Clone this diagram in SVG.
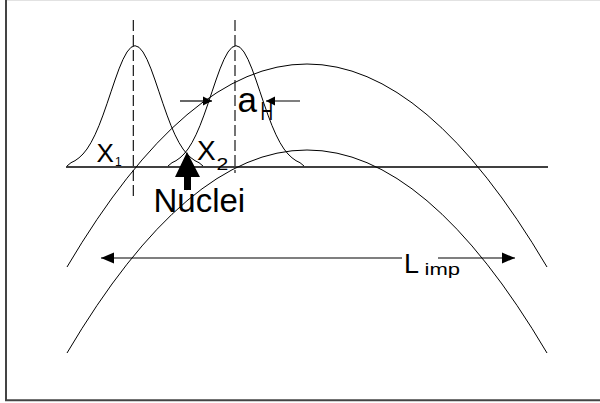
<svg xmlns="http://www.w3.org/2000/svg" width="600" height="403" viewBox="0 0 600 403">
<defs>
<style>
.c{fill:none;stroke:#000;stroke-width:1;stroke-linejoin:round}
.d{fill:none;stroke:#000;stroke-width:1.1;stroke-dasharray:11 4}
.t{font-family:"Liberation Sans",Arial,sans-serif;fill:#000}
.a{stroke:#000;stroke-width:1.2;fill:none}
</style>
<marker id="ahS" markerUnits="userSpaceOnUse" markerWidth="10" markerHeight="10" refX="9" refY="5" orient="auto"><path d="M0,0.5 L9,5 L0,9.5 z" fill="#000"/></marker>
<marker id="ahL" markerUnits="userSpaceOnUse" markerWidth="14" markerHeight="12" refX="13" refY="6" orient="auto"><path d="M0,0.5 L13,6 L0,11.5 z" fill="#000"/></marker>
</defs>
<rect width="600" height="403" fill="#fff"/>
<g id="frame">
<line x1="7" y1="0.5" x2="600" y2="0.5" stroke="#e2e2e2" stroke-width="1"/>
<line x1="6" y1="0" x2="6" y2="401" stroke="#444" stroke-width="2"/>
<line x1="5" y1="400.3" x2="600" y2="400.3" stroke="#444" stroke-width="2"/>
</g>
<g id="baseline"><line x1="66" y1="167" x2="548" y2="167" stroke="#000" stroke-width="1.3"/></g>
<g id="dashes">
<line class="d" x1="133.3" y1="20" x2="133.3" y2="197"/>
<line class="d" x1="235" y1="20" x2="235" y2="173"/>
</g>
<g id="trajectories">
<path class="c" d="M67,267 Q307,-139 547,267"/>
<path class="c" d="M67,353 Q307,-53 547,353"/>
</g>
<g id="gauss1"><polyline class="c" points="67,166 71,162.7 75,160.7 79,157.8 83,154 87,149 91,142.6 95,134.8 99,125.6 103,115.1 107,103.7 111,91.8 115,80 119,68.9 123,59.4 127,52 131,47.3 135,45.7 139,47.3 143,52 147,59.4 151,68.9 155,80 159,91.8 163,103.7 167,115.1 171,125.6 175,134.8 179,142.6 183,149 187,154 191,157.8 195,160.7 199,162.7 203,166"/></g>
<g id="gauss2"><polyline class="c" points="168,166 172,162.7 176,160.7 180,157.8 184,154 188,149 192,142.6 196,134.8 200,125.6 204,115.1 208,103.7 212,91.8 216,80 220,68.9 224,59.4 228,52 232,47.3 236,45.7 240,47.3 244,52 248,59.4 252,68.9 256,80 260,91.8 264,103.7 268,115.1 272,125.6 276,134.8 280,142.6 284,149 288,154 292,157.8 296,160.7 300,162.7 304,166"/></g>
<g id="connectors">
<line class="a" x1="180" y1="101" x2="212" y2="101" marker-end="url(#ahS)"/>
<line class="a" x1="300" y1="101" x2="266" y2="101" marker-end="url(#ahS)"/>
<line class="a" x1="402" y1="258" x2="101" y2="258" marker-end="url(#ahL)"/>
<line class="a" x1="438" y1="258" x2="515" y2="258" marker-end="url(#ahL)"/>
<polygon points="187,152 200,177 191,177 191,190 184,190 184,177 175,177" fill="#000"/>
</g>
<g id="labels">
<text class="t" x="96.5" y="162" font-size="26">X</text>
<text class="t" x="115" y="166" font-size="12">1</text>
<text class="t" x="197" y="160" font-size="28">X</text>
<text class="t" x="216.5" y="170" font-size="17" textLength="11.8" lengthAdjust="spacingAndGlyphs">2</text>
<text class="t" x="237.5" y="112" font-size="35">a</text>
<text class="t" x="260.5" y="120" font-size="25" textLength="12.6" lengthAdjust="spacingAndGlyphs">H</text>
<text class="t" x="153.5" y="211.7" font-size="33">Nuclei</text>
<text class="t" x="404" y="273" font-size="27">L</text>
<text class="t" x="424.5" y="275" font-size="16" textLength="35.5" lengthAdjust="spacingAndGlyphs">imp</text>
</g>
</svg>
